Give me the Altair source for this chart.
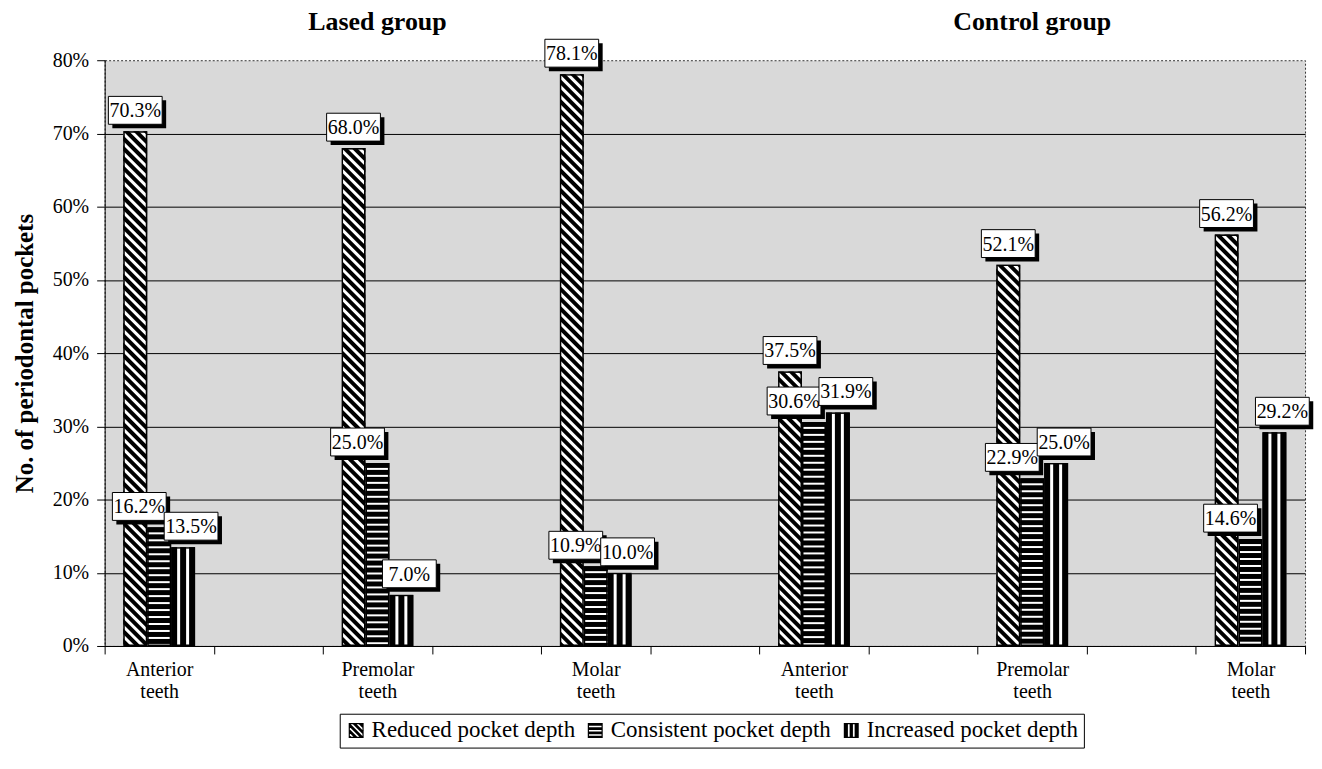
import base64
import altair as alt
import pandas as pd

SERIF = "Liberation Serif"

# ---- data ----
teeth = ["Anterior teeth", "Premolar teeth", "Molar teeth"]
series = ["Reduced pocket depth", "Consistent pocket depth", "Increased pocket depth"]
lased_reduced = [70.3, 68.0, 78.1]
lased_consistent = [16.2, 25.0, 10.9]
lased_increased = [13.5, 7.0, 10.0]
control_reduced = [37.5, 52.1, 56.2]
control_consistent = [30.6, 22.9, 14.6]
control_increased = [31.9, 25.0, 29.2]
y_ticks = [0, 10, 20, 30, 40, 50, 60, 70, 80]
group_titles = ["Lased group", "Control group"]

# category slots (blank slots between the tooth groups, as on the original axis)
slots = ["L0", "g1", "L2", "g3", "L4", "g5", "C6", "g7", "C8", "g9", "C10"]
slot_labels = {"L0": "Anterior|teeth", "L2": "Premolar|teeth", "L4": "Molar|teeth",
               "C6": "Anterior|teeth", "C8": "Premolar|teeth", "C10": "Molar|teeth"}

rows = []
for gi, vals in enumerate([[lased_reduced, lased_consistent, lased_increased],
                           [control_reduced, control_consistent, control_increased]]):
    for ti in range(len(teeth)):
        slot = slots[gi * 6 + ti * 2]
        for si, s in enumerate(series):
            rows.append({"slot": slot, "series": s, "value": vals[si][ti]})
df = pd.DataFrame(rows)
df["lab"] = df["value"].map(lambda v: f"{v:.1f}%")

titles_df = pd.DataFrame({"slot": ["L2", "C8"], "t": group_titles})

# ---- hatch fills as tiny SVG images ----
def svg_uri(pattern):
    svg = ("<svg xmlns='http://www.w3.org/2000/svg' width='100%' height='100%'>"
           "<defs>" + pattern + "</defs>"
           "<rect x='0' y='0' width='100%' height='100%' fill='url(#p)' stroke='black' stroke-width='3'/>"
           "</svg>")
    return "data:image/svg+xml;base64," + base64.b64encode(svg.encode()).decode()

pat_diag = ("<pattern id='p' patternUnits='userSpaceOnUse' width='7' height='7' patternTransform='rotate(-45)'>"
            "<rect width='7' height='7' fill='white'/><rect width='4' height='7' fill='black'/></pattern>")
pat_horiz = ("<pattern id='p' patternUnits='userSpaceOnUse' width='7' height='7'>"
             "<rect width='7' height='7' fill='white'/><rect width='7' height='5' fill='black'/></pattern>")
pat_vert = ("<pattern id='p' patternUnits='userSpaceOnUse' width='9' height='9'>"
            "<rect width='9' height='9' fill='black'/><rect x='6' width='3' height='9' fill='white'/></pattern>")
fills = [svg_uri(pat_diag), svg_uri(pat_horiz), svg_uri(pat_vert)]

# ---- legend symbols: filled black stripes (white gaps) inside a unit square ----
def clip_square(poly):
    def clip(pts, inside, inter):
        out = []
        for i in range(len(pts)):
            cur, prev = pts[i], pts[i - 1]
            if inside(cur):
                if not inside(prev):
                    out.append(inter(prev, cur))
                out.append(cur)
            elif inside(prev):
                out.append(inter(prev, cur))
        return out

    def ix(xv):
        return lambda p, q: (xv, p[1] + (q[1] - p[1]) * (xv - p[0]) / (q[0] - p[0]))

    def iy(yv):
        return lambda p, q: (p[0] + (q[0] - p[0]) * (yv - p[1]) / (q[1] - p[1]), yv)

    pts = poly
    for inside, inter in [(lambda p: p[0] >= -1, ix(-1)), (lambda p: p[0] <= 1, ix(1)),
                          (lambda p: p[1] >= -1, iy(-1)), (lambda p: p[1] <= 1, iy(1))]:
        if not pts:
            break
        pts = clip(pts, inside, inter)
    return pts

def oriented(pts):
    area = sum(pts[i - 1][0] * pts[i][1] - pts[i][0] * pts[i - 1][1] for i in range(len(pts)))
    return pts if area > 0 else pts[::-1]

def to_path(polys):
    parts = []
    for p in polys:
        if len(p) < 3:
            continue
        p = oriented(p)
        parts.append("M" + "L".join(f"{x:.3f},{y:.3f}" for x, y in p) + "Z")
    return " ".join(parts)

def rect(x0, y0, x1, y1):
    return [(x0, y0), (x1, y0), (x1, y1), (x0, y1)]

frame = [rect(-1, -1, 1, -0.84), rect(-1, 0.84, 1, 1), rect(-1, -1, -0.84, 1), rect(0.84, -1, 1, 1)]
diag_polys = [clip_square([(-3, -3 - c1), (3, 3 - c1), (3, 3 - c2), (-3, -3 - c2)])
              for c1, c2 in [(-2.0, -1.5), (-1.2, -0.7), (-0.4, 0.1), (0.4, 0.9), (1.2, 1.7), (2.0, 2.5)]]
horiz_polys = [rect(-1, a, 1, b) for a, b in [(-1, -0.62), (-0.42, -0.05), (0.15, 0.52), (0.72, 1)]]
vert_polys = [rect(a, -1, b, 1) for a, b in [(-1, -0.45), (-0.22, 0.22), (0.45, 1)]]
legend_paths = [to_path(diag_polys + frame), to_path(horiz_polys + frame), to_path(vert_polys + frame)]

label_dx = [0, -20, 8]
BOX_UNIT = 24.0  # sqrt(size)/2 for size=2304
BOX_W, BOX_H, BOX_DY, SHADOW = 27.0, 14.0, -21.0, 4.0

def box_path(dx, dy):
    x0 = (dx - BOX_W) / BOX_UNIT
    x1 = (dx + BOX_W) / BOX_UNIT
    y0 = (dy - BOX_H) / BOX_UNIT
    y1 = (dy + BOX_H) / BOX_UNIT
    return f"M{x0:.3f},{y0:.3f}H{x1:.3f}V{y1:.3f}H{x0:.3f}Z"

# ---- encodings ----
label_expr = " : ".join(
    f"datum.value == '{k}' ? split('{v}', '|')" for k, v in slot_labels.items()
) + " : ''"

x_enc = alt.X(
    "slot:N",
    scale=alt.Scale(type="band", domain=slots, paddingInner=0, paddingOuter=0),
    axis=alt.Axis(labelExpr=label_expr, labelFont=SERIF, labelFontSize=20, labelColor="black",
                  labelLineHeight=22, labelPadding=6, labelAngle=0, labelBaseline="top",
                  tickBand="extent", tickSize=8, tickColor="black", domainColor="black",
                  grid=False, title=None, labelOverlap=False, labelBound=False),
)
xo_enc = alt.XOffset("series:N", scale=alt.Scale(domain=series, paddingOuter=0.78, paddingInner=0))
y_enc = alt.Y(
    "value:Q",
    scale=alt.Scale(domain=[0, 80], nice=False),
    axis=alt.Axis(values=y_ticks, labelExpr="datum.value + '%'", labelFont=SERIF, labelFontSize=20,
                  labelColor="black", labelPadding=8, tickSize=8, tickColor="black",
                  domainColor="black", grid=True,
                  gridColor={"condition": {"test": "datum.value >= 80", "value": "transparent"},
                             "value": "black"},
                  gridWidth=1, titleFont=SERIF, titleFontSize=25, titleFontWeight="bold",
                  titleColor="black", titlePadding=15),
    title="No. of periodontal pockets",
)

base = alt.Chart(df)

layers = []
# solid fallback bars
layers.append(base.mark_bar(fill="#222222").encode(x=x_enc, xOffset=xo_enc, y=y_enc))
# hatched bars
for s, uri in zip(series, fills):
    layers.append(
        base.transform_filter(alt.datum.series == s)
        .mark_image(aspect=False)
        .encode(x=x_enc, xOffset=xo_enc, y=y_enc, y2=alt.datum(0), url=alt.value(uri))
    )
# invisible points that carry the legend
layers.append(
    base.mark_point(filled=True, opacity=0, fill="black", strokeWidth=0)
    .encode(
        x=x_enc, xOffset=xo_enc, y=y_enc,
        shape=alt.Shape(
            "series:N",
            scale=alt.Scale(domain=series, range=legend_paths),
            legend=alt.Legend(title=None, orient="none", legendX=236, legendY=656,
                              direction="horizontal", labelFont=SERIF, labelFontSize=23,
                              labelColor="black", labelLimit=0, symbolSize=225, symbolOpacity=1,
                              symbolFillColor="black", symbolStrokeWidth=0,
                              strokeColor="black", fillColor="white",
                              padding=5, columnPadding=8, labelOffset=4),
        ),
    )
)
# value labels: shadow, white box, text
for s, dx in zip(series, label_dx):
    sub = base.transform_filter(alt.datum.series == s)
    layers.append(
        sub.mark_point(shape=box_path(dx + SHADOW, BOX_DY + SHADOW), size=2304, filled=True,
                       fill="black", strokeWidth=0, opacity=1)
        .encode(x=x_enc, xOffset=xo_enc, y=y_enc)
    )
    layers.append(
        sub.mark_point(shape=box_path(dx, BOX_DY), size=2304, filled=True,
                       fill="white", stroke="black", strokeWidth=1, opacity=1)
        .encode(x=x_enc, xOffset=xo_enc, y=y_enc)
    )
    layers.append(
        sub.mark_text(font=SERIF, fontSize=20, color="black", dx=dx, dy=BOX_DY + 1,
                      align="center", baseline="middle")
        .encode(x=x_enc, xOffset=xo_enc, y=y_enc, text="lab:N")
    )
# group titles
layers.append(
    alt.Chart(titles_df).mark_text(font=SERIF, fontSize=26, fontWeight="bold", color="black",
                                   baseline="alphabetic")
    .encode(x=alt.X("slot:N", scale=alt.Scale(type="band", domain=slots)), y=alt.value(-30), text="t:N")
)

chart = (
    alt.layer(*layers)
    .properties(width=1205, height=588, background="white",
                padding={"left": 4, "top": 0, "right": 0, "bottom": 2})
    .configure_view(fill="#d9d9d9", stroke="#333333", strokeDash=[2, 2], strokeWidth=1)
)

chart.save("out.html", embed_options={"renderer": "svg", "actions": False})
